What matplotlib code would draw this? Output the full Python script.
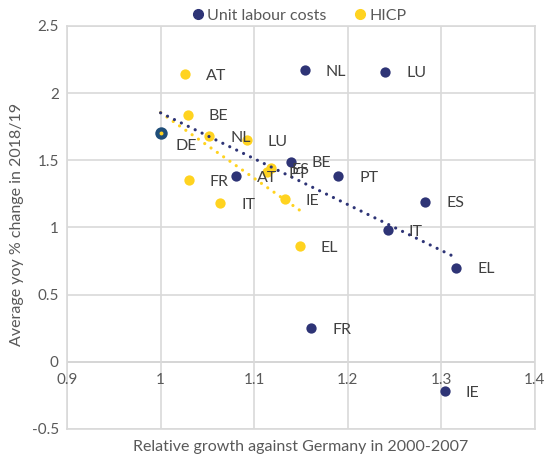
import numpy as np
import matplotlib
matplotlib.use("Agg")
import matplotlib.pyplot as plt
from matplotlib.lines import Line2D

plt.rcParams['font.family'] = ['Lato', 'DejaVu Sans']

# Unit labour costs
ulc_countries = ["DE", "NL", "LU", "BE", "AT", "PT", "ES", "IT", "EL", "FR", "IE"]
ulc_x = [1.000, 1.154, 1.240, 1.139, 1.081, 1.190, 1.283, 1.243, 1.316, 1.161, 1.304]
ulc_y = [1.70, 2.17, 2.16, 1.49, 1.38, 1.38, 1.19, 0.98, 0.70, 0.25, -0.22]

# HICP
hicp_countries = ["DE", "AT", "BE", "NL", "LU", "FR", "IT", "IE", "EL", "ES", "PT"]
hicp_x = [1.000, 1.026, 1.029, 1.052, 1.092, 1.030, 1.064, 1.133, 1.149, 1.118, 1.114]
hicp_y = [1.70, 2.14, 1.84, 1.68, 1.65, 1.35, 1.18, 1.21, 0.86, 1.44, 1.41]

x_ticks = [0.9, 1, 1.1, 1.2, 1.3, 1.4]
x_tick_labels = ["0.9", "1", "1.1", "1.2", "1.3", "1.4"]
y_ticks = [-0.5, 0, 0.5, 1, 1.5, 2, 2.5]
y_tick_labels = ["-0.5", "0", "0.5", "1", "1.5", "2", "2.5"]

NAVY = "#2E3476"
YELLOW = "#FFD320"
GRID = "#D9D9D9"
TXT = "#595959"
LBL = "#404040"

fig = plt.figure(figsize=(5.47, 4.59), dpi=100)
ax = fig.add_axes([0.1225, 0.0654, 0.978 - 0.1225, 0.9434 - 0.0654])
ax.set_xlim(0.9, 1.4)
ax.set_ylim(-0.5, 2.5)

ax.set_xticks(x_ticks)
ax.set_yticks(y_ticks)
ax.set_yticklabels(y_tick_labels)
ax.set_xticklabels([])
ax.grid(True, color=GRID, linewidth=1.2, zorder=0)
for s in ax.spines.values():
    s.set_color(GRID)
    s.set_linewidth(1.2)
ax.tick_params(length=0, labelsize=11, colors=TXT, pad=6)
ax.axhline(0, color="#BFBFBF", linewidth=1.2, zorder=1)
for xv, lab in zip(x_ticks, x_tick_labels):
    ax.annotate(lab, (xv, 0), xytext=(0, -8), textcoords="offset points",
                ha="center", va="top", fontsize=11, color=TXT)

def trend(xs, ys, color):
    xs = np.asarray(xs); ys = np.asarray(ys)
    m, b = np.polyfit(xs, ys, 1)
    xx = np.array([xs.min(), xs.max()])
    ax.plot(xx, m * xx + b, color=color, linewidth=2.3,
            linestyle=(0, (0.01, 2.4)), dash_capstyle="round", zorder=4)

ax.scatter(hicp_x, hicp_y, s=55, color=YELLOW, zorder=3, linewidths=0)
trend(hicp_x, hicp_y, YELLOW)
ax.scatter(ulc_x, ulc_y, s=55, color=NAVY, zorder=5, linewidths=0)
trend(ulc_x, ulc_y, NAVY)
# DE overlap: HICP point visible in centre of the ULC marker
ax.scatter(ulc_x[:1], ulc_y[:1], s=80, color="#1F4E79", zorder=5.5, linewidths=0)
ax.scatter(hicp_x[:1], hicp_y[:1], s=8, color=YELLOW, zorder=6, linewidths=0)

for c, xv, yv in zip(ulc_countries, ulc_x, ulc_y):
    off = (11, -9) if c == "DE" else (15, -1)
    ax.annotate(c, (xv, yv), xytext=off, textcoords="offset points",
                ha="left", va="center", fontsize=11.5, color=LBL, zorder=7)
for c, xv, yv in zip(hicp_countries, hicp_x, hicp_y):
    if c == "DE":
        continue
    ax.annotate(c, (xv, yv), xytext=(15, -1), textcoords="offset points",
                ha="left", va="center", fontsize=11.5, color=LBL, zorder=7)

fig.text((67 + 535) / 2 / 547, 1 - 447 / 459, "Relative growth against Germany in 2000-2007",
         ha="center", va="center", fontsize=11.5, color=TXT)
fig.text(17 / 547, 1 - 224 / 459, "Average yoy % change in 2018/19",
         ha="center", va="center", rotation=90, fontsize=11.5, color=TXT)

handles = [Line2D([], [], marker="o", linestyle="", color=NAVY, markersize=7),
           Line2D([], [], marker="o", linestyle="", color=YELLOW, markersize=7)]
fig.legend(handles, ["Unit labour costs", "HICP"], loc="center", bbox_to_anchor=(0.545, 0.966),
           ncol=2, frameon=False, fontsize=11.5, labelcolor=TXT, handletextpad=0.1,
           columnspacing=1.6, handlelength=1.0)

fig.savefig("out.png", dpi=100)
